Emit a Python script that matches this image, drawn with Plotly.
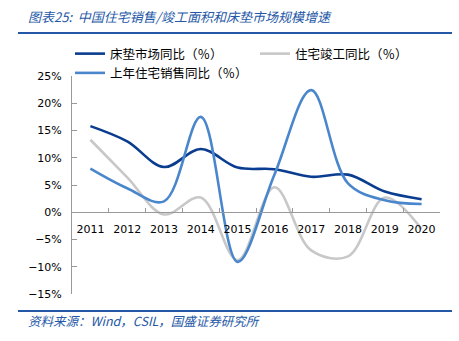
import plotly.graph_objects as go

years = ["2011", "2012", "2013", "2014", "2015", "2016", "2017", "2018", "2019", "2020"]
mattress = [15.8, 13.0, 8.3, 11.6, 8.2, 7.9, 6.5, 6.9, 3.8, 2.4]
completion = [13.3, 6.4, -0.4, 2.7, -8.8, 4.6, -7.0, -8.1, 2.7, -3.1]
sales_prev = [8.0, 4.4, 2.0, 17.5, -9.1, 6.9, 22.4, 5.3, 2.2, 1.5]

names = ["床垫市场同比（％）", "住宅竣工同比（％）", "上年住宅销售同比（％）"]
colors = ["#0A3D8F", "#C8C8C8", "#4A86CC"]

W, H = 459, 341
ml, mr, mt, mb = 72, 19, 76, 47
pw, ph = W - ml - mr, H - mt - mb

def px(x):
    return (x - ml) / pw

def py(y):
    return (H - mb - y) / ph

fig = go.Figure()
for vals, name, c in zip([mattress, completion, sales_prev], names, colors):
    fig.add_trace(go.Scatter(
        x=years, y=[v / 100 for v in vals], name=name, mode="lines",
        line=dict(color=c, width=2.6, shape="spline", smoothing=1.0),
    ))

cjk = "Noto Sans CJK SC"
fig.update_layout(
    width=W, height=H,
    margin=dict(l=ml, r=mr, t=mt, b=mb),
    paper_bgcolor="white", plot_bgcolor="white",
    font=dict(family="DejaVu Sans", size=11, color="#000000"),
    showlegend=True,
    legend=dict(
        orientation="h", x=px(70), y=py(39), xanchor="left", yanchor="top",
        entrywidth=140, entrywidthmode="pixels",
        font=dict(family=cjk, size=12.5, color="#000000"),
        bgcolor="rgba(0,0,0,0)", tracegroupgap=0, itemwidth=30,
    ),
    xaxis=dict(
        type="category", anchor="free", position=15 / 40,
        showline=True, linecolor="#999999", linewidth=1,
        ticks="inside", ticklen=4, tickcolor="#999999", tickson="boundaries",
        showgrid=False, zeroline=False, tickangle=0, ticklabelstandoff=7,
        tickfont=dict(family="DejaVu Sans", size=11),
        range=[-0.5, 9.5],
    ),
    yaxis=dict(
        range=[-0.15, 0.25], dtick=0.05, tickformat=".0%",
        showline=True, linecolor="#999999", linewidth=1,
        ticks="inside", ticklen=5, tickcolor="#999999", ticklabelstandoff=7,
        showgrid=False, zeroline=False,
        tickfont=dict(family="DejaVu Sans", size=11),
    ),
    shapes=[
        dict(type="line", xref="paper", yref="paper", x0=px(18), x1=px(452),
             y0=py(33), y1=py(33), line=dict(color="#2457A6", width=2)),
        dict(type="line", xref="paper", yref="paper", x0=px(18), x1=px(452),
             y0=py(311), y1=py(311), line=dict(color="#2457A6", width=2)),
    ],
    annotations=[
        dict(text="<i>图表25:  中国住宅销售/竣工面积和床垫市场规模增速</i>", xref="paper", yref="paper",
             x=px(26), y=py(17), xanchor="left", yanchor="middle", showarrow=False,
             font=dict(family=cjk, size=13, color="#2457A6")),
        dict(text="<i>资料来源：Wind，CSIL，国盛证券研究所</i>", xref="paper", yref="paper",
             x=px(26), y=py(320), xanchor="left", yanchor="middle", showarrow=False,
             font=dict(family=cjk, size=12.5, color="#2457A6")),
    ],
)

fig.write_html("out.html")
